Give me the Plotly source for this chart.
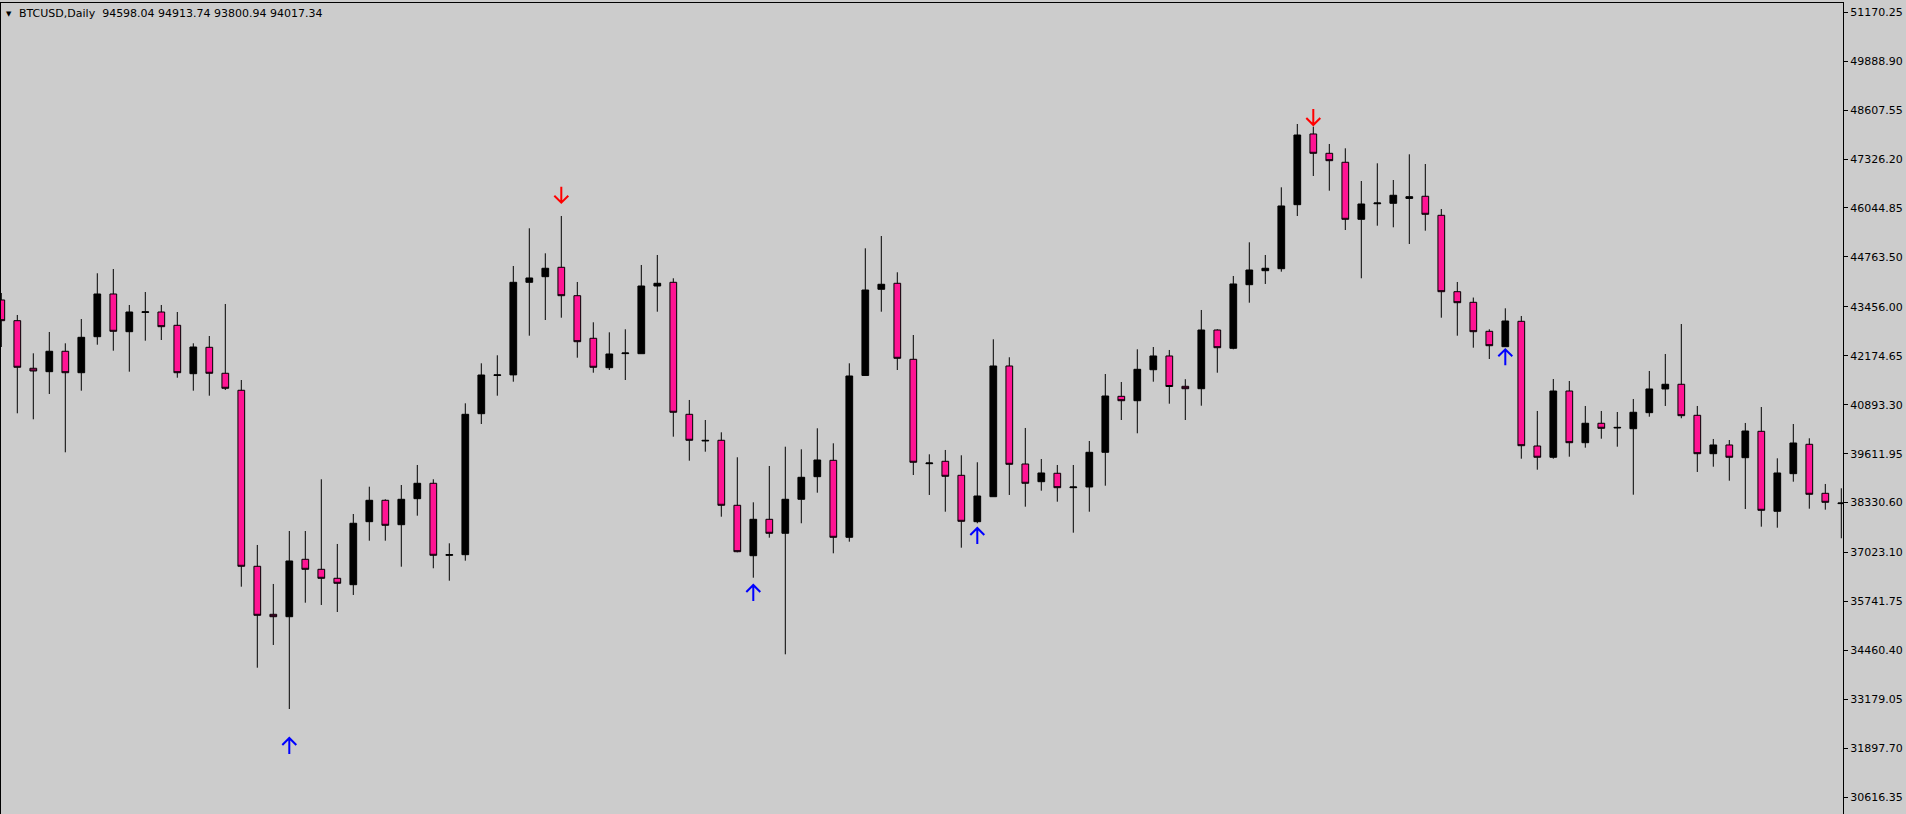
import plotly.graph_objects as go

# ---- data (daily candles, left to right) ----
opens = [43636, 43094, 41848, 41759, 42293, 41732, 42675, 43793, 42806, 43310,
         43321, 42973, 41706, 42397, 41717, 41272, 36664, 35407, 35344, 36847,
         36585, 36350, 36182, 37832, 38392, 37753, 38434, 38837, 36950, 36968,
         40659, 41660, 41675, 44099, 44246, 44492, 43748, 42633, 41863, 42232,
         42230, 44002, 44099, 40643, 39945, 39963, 38261, 36941, 37894, 37528,
         38418, 39010, 39439, 37423, 41660, 43916, 44073, 42083, 39350, 39413,
         39046, 37832, 38486, 41908, 39342, 38879, 39099, 38722, 38740, 39648,
         41114, 40999, 41810, 42170, 41376, 41313, 42850, 42371, 44036, 44403,
         44455, 46131, 47982, 47476, 47241, 45748, 46155, 46167, 46295, 46351,
         45853, 43853, 43575, 42816, 42413, 43078, 39813, 39518, 41253, 39900,
         40408, 40285, 40266, 40686, 41306, 41429, 40617, 39612, 39840, 39507,
         40198, 38104, 39089, 39858, 38575, 38305]
highs = [43819, 43243, 42240, 42798, 42502, 43138, 44335, 44447, 43505, 43845,
         43505, 43321, 42502, 42693, 43531, 41541, 37222, 36201, 37588, 37588,
         38942, 37248, 38033, 38748, 38418, 38792, 39316, 38942, 37266, 40931,
         41978, 42188, 44526, 45513, 44858, 45835, 44107, 43052, 42790, 42869,
         44552, 44814, 44204, 41018, 40494, 40172, 39518, 38339, 39290, 39795,
         39727, 40277, 39884, 41978, 44989, 45311, 44361, 42719, 39596, 39709,
         39570, 39387, 42607, 42136, 40285, 39473, 39316, 39316, 39944, 41698,
         41489, 42345, 42405, 42327, 41562, 43374, 42869, 44264, 45146, 44814,
         46586, 48243, 48173, 47720, 47607, 46751, 47214, 46777, 47450, 47196,
         46018, 44107, 43700, 42869, 43418, 43217, 40730, 41567, 41515, 40861,
         40730, 40703, 41044, 41777, 42222, 43007, 40861, 39997, 39970, 40416,
         40834, 39491, 40389, 40015, 38819, 38706]
lows = [42405, 40669, 40512, 41175, 39648, 41261, 42465, 42308, 41759, 42570,
        42588, 41601, 41261, 41130, 41279, 36130, 34009, 34604, 32928, 35711,
        35651, 35467, 35913, 37334, 37334, 36653, 37989, 36612, 36287, 36811,
        40389, 41130, 41497, 42701, 43112, 43172, 42125, 41732, 41803, 41541,
        42230, 43329, 40057, 39429, 39664, 37962, 37030, 36365, 37413, 34360,
        37790, 38591, 37004, 37308, 41654, 43329, 41803, 39054, 38531, 38093,
        37151, 37790, 38486, 38531, 38224, 38643, 38355, 37544, 38093, 38774,
        40494, 40146, 41497, 40921, 40494, 40868, 41732, 42345, 43565, 44055,
        44377, 45835, 46882, 46497, 45468, 44204, 45581, 45539, 45102, 45450,
        43172, 42701, 42387, 42091, 42413, 39481, 39193, 39481, 39533, 39769,
        40004, 39795, 38538, 40580, 40861, 40539, 39133, 39271, 38905, 38164,
        37701, 37674, 38879, 38172, 38146, 37397]
closes = [43094, 41874, 41777, 42293, 41732, 42659, 43793, 42816, 43321, 43325,
          42937, 41732, 42405, 41717, 41324, 36664, 35381, 35344, 36803, 36585,
          36350, 36219, 37790, 38392, 37737, 38418, 38837, 36952, 36970, 40643,
          41672, 41675, 44099, 44212, 44466, 43748, 42544, 41874, 42222, 42248,
          44002, 44073, 40696, 39963, 39960, 38261, 37046, 37894, 37528, 38418,
          38994, 39447, 37423, 41646, 43897, 44047, 42109, 39387, 39368, 39020,
          37842, 38504, 41908, 39334, 38837, 39107, 38722, 38740, 39648, 41122,
          40999, 41821, 42170, 41371, 41313, 42850, 42387, 44055, 44421, 44466,
          46097, 47955, 47476, 47283, 45748, 46149, 46175, 46377, 46340, 45879,
          43853, 43565, 42806, 42439, 43086, 39821, 39518, 41253, 39900, 40408,
          40277, 40300, 40696, 41306, 41429, 40607, 39612, 39840, 39518, 40206,
          38130, 39107, 39892, 38549, 38339, 38320]
bar_index = list(range(len(opens)))

price_ticks = [51170.25, 49888.90, 48607.55, 47326.20, 46044.85, 44763.50,
               43456.00, 42174.65, 40893.30, 39611.95, 38330.60, 37023.10,
               35741.75, 34460.40, 33179.05, 31897.70, 30616.35]
price_tick_text = [f"{v:.2f}" for v in price_ticks]

# signal arrows (bar index, price at the arrow tip)
up_arrow_idx = [18, 47, 61, 94]
up_arrow_price = [32169, 36174, 37667, 42345]
down_arrow_idx = [35, 82]
down_arrow_price = [46183, 48217]

symbol_label = "BTCUSD,Daily"
header_ohlc = ["94598.04", "94913.74", "93800.94", "94017.34"]

BG = "#CCCCCC"
BEAR = "#FF1493"
FONT = "DejaVu Sans"

fig = go.Figure()
fig.add_trace(go.Candlestick(
    x=bar_index, open=opens, high=highs, low=lows, close=closes,
    increasing=dict(fillcolor="#000000", line=dict(color="#000000", width=1)),
    decreasing=dict(fillcolor=BEAR, line=dict(color="#000000", width=1)),
    whiskerwidth=0, showlegend=False, hoverinfo="skip",
))

shapes = []
for i, p in zip(up_arrow_idx, up_arrow_price):
    shapes.append(dict(type="path", xref="x", yref="y", xsizemode="pixel",
                       ysizemode="pixel", xanchor=i, yanchor=p,
                       path="M0,0 L0,-16 M-7,-7 L0,0 L7,-7",
                       line=dict(color="#0000FF", width=2)))
for i, p in zip(down_arrow_idx, down_arrow_price):
    shapes.append(dict(type="path", xref="x", yref="y", xsizemode="pixel",
                       ysizemode="pixel", xanchor=i, yanchor=p,
                       path="M0,0 L0,16 M-7,7 L0,0 L7,7",
                       line=dict(color="#FF0000", width=2)))

header_text = symbol_label + "\u00a0\u00a0" + " ".join(header_ohlc)

fig.update_layout(
    width=1906, height=814,
    margin=dict(l=1, r=63, t=3, b=0, pad=0),
    paper_bgcolor=BG, plot_bgcolor=BG,
    boxgap=0.4,
    showlegend=False,
    shapes=shapes,
    font=dict(family=FONT, size=11, color="#000000"),
    annotations=[
        dict(xref="paper", yref="paper", x=0, y=1, xanchor="left", yanchor="top",
             text="\u25BC", showarrow=False, font=dict(family=FONT, size=7, color="#000000"),
             xshift=3, yshift=-5),
        dict(xref="paper", yref="paper", x=0, y=1, xanchor="left", yanchor="top",
             text=header_text, showarrow=False, font=dict(family=FONT, size=11, color="#000000"),
             xshift=16, yshift=-2),
    ],
    xaxis=dict(range=[-0.019, 115.106], showgrid=False, zeroline=False,
               showticklabels=False, ticks="", showline=True, linecolor="#000000",
               linewidth=1, mirror=True, rangeslider=dict(visible=False), fixedrange=True),
    yaxis=dict(range=[30179, 51411], side="right", showgrid=False, zeroline=False,
               tickmode="array", tickvals=price_ticks, ticktext=price_tick_text,
               ticks="outside", ticklen=4, tickwidth=1, tickcolor="#000000",
               showline=True, linecolor="#000000", linewidth=1, mirror=True,
               tickfont=dict(family=FONT, size=11, color="#000000"), fixedrange=True),
)

fig.write_html(
    "out.html",
    config={"displayModeBar": False},
    post_script="document.body.style.margin='0';document.body.style.overflow='hidden';"
                "document.body.style.background='" + BG + "';",
)
